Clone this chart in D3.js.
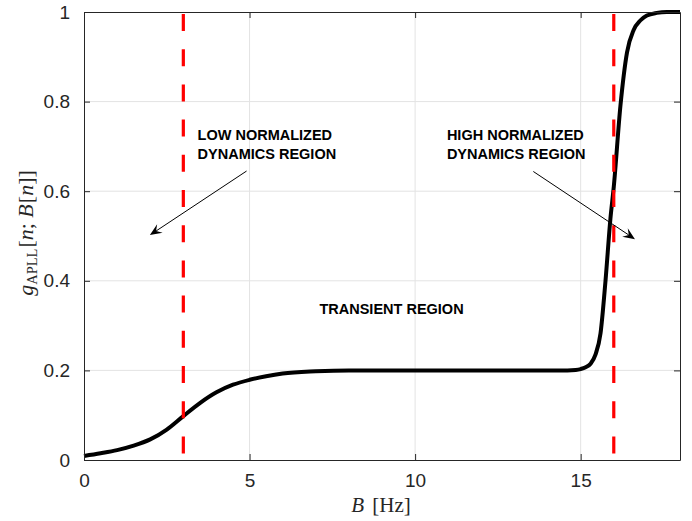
<!DOCTYPE html>
<meta charset="utf-8">
<style>
body { margin: 0; background: #fff; }
text { font-family: "Liberation Sans", Arial, Helvetica, sans-serif; fill: #262626; }
.note { font-weight: bold; font-size: 14.5px; fill: #000; }
.math { font-family: "Liberation Serif", "Times New Roman", serif; }
</style>
<svg width="692" height="521"></svg>
<script src="https://d3js.org/d3.v7.min.js"></script>
<script>
// curve: B in Hz, gain
var bValues = [0, 0.5, 1, 1.5, 2, 2.5, 3, 3.5, 4, 4.5, 5, 5.5, 6, 7, 8, 10, 14, 14.6, 14.85, 15, 15.15, 15.3, 15.45, 15.6, 15.75, 15.9, 16, 16.2, 16.4, 16.6, 16.8, 17, 17.3, 17.6, 18];
var gValues = [0.009, 0.015, 0.022, 0.032, 0.046, 0.068, 0.098, 0.127, 0.151, 0.168, 0.179, 0.187, 0.193, 0.198, 0.2, 0.2, 0.2, 0.2, 0.201, 0.203, 0.207, 0.215, 0.236, 0.283, 0.4, 0.54, 0.61, 0.79, 0.91, 0.96, 0.981, 0.992, 0.998, 1, 1];

// vertical region markers
var markerB = [3, 16];

var xTicks = [0, 5, 10, 15];
var yTicks = [0, 0.2, 0.4, 0.6, 0.8, 1];

// annotations, positions in data units
var noteLines = [
  ["LOW NORMALIZED", "DYNAMICS REGION"],
  ["HIGH NORMALIZED", "DYNAMICS REGION"],
  ["TRANSIENT REGION"]
];
var noteAt = [[3.43, 0.715], [10.96, 0.715], [7.11, 0.326]];
var arrowFrom = [[4.91, 0.645], [13.57, 0.644]];
var arrowTo = [[1.99, 0.502], [16.64, 0.493]];

var svg = d3.select("svg"),
    margin = {top: 12, right: 12, bottom: 61, left: 84},
    width = +svg.attr("width") - margin.left - margin.right,
    height = +svg.attr("height") - margin.top - margin.bottom;

var x = d3.scaleLinear().domain([0, 18]).range([0, width]);
var y = d3.scaleLinear().domain([0, 1]).range([height, 0]);

var g = svg.append("g").attr("transform", "translate(" + margin.left + "," + margin.top + ")");

// grid
g.append("g").selectAll("line").data(xTicks.slice(1)).enter().append("line")
    .attr("x1", d => x(d)).attr("x2", d => x(d))
    .attr("y1", 0).attr("y2", height)
    .attr("stroke", "#e3e3e3");
g.append("g").selectAll("line").data(yTicks.slice(1, -1)).enter().append("line")
    .attr("y1", d => y(d)).attr("y2", d => y(d))
    .attr("x1", 0).attr("x2", width)
    .attr("stroke", "#e3e3e3");

// curve
var line = d3.line()
    .x((d, i) => x(bValues[i]))
    .y(d => y(d))
    .curve(d3.curveMonotoneX);
g.append("path")
    .datum(gValues)
    .attr("fill", "none")
    .attr("stroke", "#000")
    .attr("stroke-width", 4)
    .attr("d", line);

// red dashed markers
g.append("g").selectAll("line").data(markerB).enter().append("line")
    .attr("x1", d => x(d)).attr("x2", d => x(d))
    .attr("y1", 0).attr("y2", height)
    .attr("stroke", "#ff0000")
    .attr("stroke-width", 3.2)
    .attr("stroke-dasharray", "17,18.2")
    .attr("stroke-dashoffset", -2);

// axes, box style with inward ticks
function styleAxis(sel) {
  sel.select(".domain").attr("stroke", "#262626");
  sel.selectAll(".tick line").attr("stroke", "#262626");
}
g.append("g").attr("transform", "translate(0," + height + ")")
    .call(d3.axisBottom(x).tickValues(xTicks).tickSizeInner(-6).tickSizeOuter(0).tickPadding(14))
    .call(styleAxis).call(s => s.selectAll("text").attr("dy", "0.71em"));
g.append("g")
    .call(d3.axisTop(x).tickValues(xTicks).tickSizeInner(-6).tickSizeOuter(0).tickFormat(""))
    .call(styleAxis);
g.append("g")
    .call(d3.axisLeft(y).tickValues(yTicks).tickSizeInner(-6).tickSizeOuter(0).tickPadding(14).tickFormat(d3.format("~g")))
    .call(styleAxis);
g.append("g").attr("transform", "translate(" + width + ",0)")
    .call(d3.axisRight(y).tickValues(yTicks).tickSizeInner(-6).tickSizeOuter(0).tickFormat(""))
    .call(styleAxis);
g.selectAll(".tick text").attr("fill", "#262626").style("font-size", "19px")
    .style("font-family", "'Liberation Sans', Arial, sans-serif");

// axis labels
var xl = svg.append("text").attr("class", "math")
    .attr("x", margin.left + width / 2 - 1).attr("y", 512)
    .attr("text-anchor", "middle").style("font-size", "21px");
xl.append("tspan").style("font-style", "italic").text("B");
xl.append("tspan").attr("dx", 3).text(" [Hz]");

var yl = svg.append("text").attr("class", "math")
    .attr("transform", "translate(33,233) rotate(-90)")
    .attr("text-anchor", "middle").style("font-size", "22px");
yl.append("tspan").style("font-style", "italic").text("g");
yl.append("tspan").attr("dy", 4).style("font-size", "14.5px").text("APLL");
yl.append("tspan").attr("dy", -4).attr("dx", 1).text("[");
yl.append("tspan").style("font-style", "italic").text("n");
yl.append("tspan").text("; ");
yl.append("tspan").style("font-style", "italic").text("B");
yl.append("tspan").attr("dx", 1).text("[");
yl.append("tspan").style("font-style", "italic").text("n");
yl.append("tspan").text("]]");

// annotations
noteLines.forEach(function(lines, i) {
  var t = g.append("text").attr("class", "note")
      .attr("x", x(noteAt[i][0])).attr("y", y(noteAt[i][1]));
  lines.forEach(function(s, j) {
    t.append("tspan").attr("x", x(noteAt[i][0])).attr("dy", j ? 19.5 : 0).text(s);
  });
});

// arrows with concave heads
arrowFrom.forEach(function(p, i) {
  var x0 = x(p[0]), y0 = y(p[1]), x1 = x(arrowTo[i][0]), y1 = y(arrowTo[i][1]);
  var ang = Math.atan2(y1 - y0, x1 - x0), len = 12, wid = 5;
  var bx = x1 - len * Math.cos(ang), by = y1 - len * Math.sin(ang);
  var nx = -Math.sin(ang), ny = Math.cos(ang);
  var ix = x1 - 0.62 * len * Math.cos(ang), iy = y1 - 0.62 * len * Math.sin(ang);
  g.append("line").attr("x1", x0).attr("y1", y0).attr("x2", ix).attr("y2", iy)
      .attr("stroke", "#000").attr("stroke-width", 1);
  g.append("path")
      .attr("d", "M" + x1 + "," + y1 + "L" + (bx + wid * nx) + "," + (by + wid * ny) +
        "L" + ix + "," + iy + "L" + (bx - wid * nx) + "," + (by - wid * ny) + "Z")
      .attr("fill", "#000");
});
</script>
